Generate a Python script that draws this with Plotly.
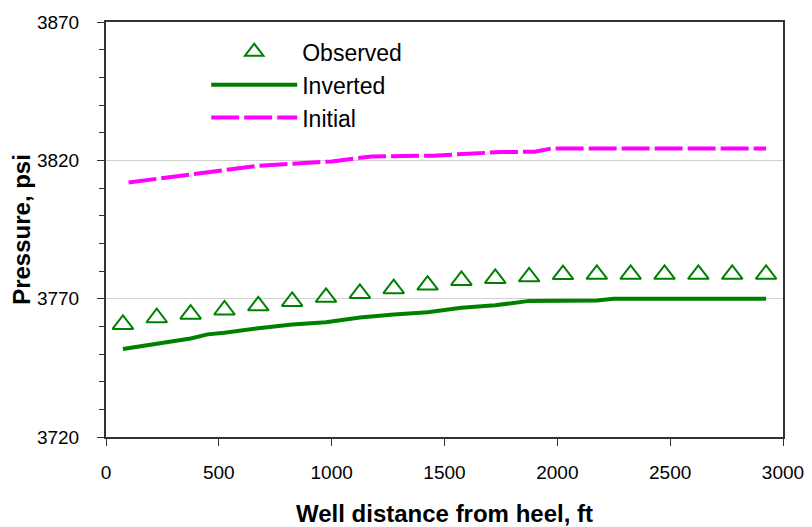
import plotly.graph_objects as go

# Observed data (triangles)
obs_x = [75, 225, 375, 525, 675, 825, 975, 1125, 1275, 1425,
         1575, 1725, 1875, 2025, 2175, 2325, 2475, 2625, 2775, 2925]
obs_y = [3760.7, 3763.1, 3764.4, 3765.9, 3767.4, 3769.0, 3770.5, 3771.9, 3773.6, 3774.9,
         3776.6, 3777.3, 3777.9, 3778.7, 3778.8, 3778.8, 3778.8, 3778.8, 3778.8, 3778.8]

# Inverted pressure profile
inv_x = [75, 225, 375, 450, 525, 675, 825, 975, 1125, 1275, 1425,
         1575, 1725, 1875, 2025, 2175, 2250, 2925]
inv_y = [3751.8, 3753.7, 3755.6, 3757.1, 3757.7, 3759.3, 3760.7, 3761.5, 3763.2, 3764.3, 3765.1,
         3766.7, 3767.6, 3769.2, 3769.3, 3769.3, 3770.0, 3770.0]

# Initial pressure profile
ini_x = [100, 670, 1000, 1175, 1450, 1750, 1900, 1975, 2925]
ini_y = [3812.0, 3818.0, 3819.6, 3821.4, 3821.7, 3823.0, 3823.1, 3824.3, 3824.3]

x_range = [0, 3000]
y_range = [3720, 3870]

FONT = "Liberation Sans, Arial, sans-serif"
GREEN = "#008000"
MAGENTA = "#FF00FF"

fig = go.Figure()
fig.add_trace(go.Scatter(
    x=obs_x, y=obs_y, mode="markers", name="Observed",
    marker=dict(symbol="triangle-up-open", size=18, color=GREEN, line=dict(width=2, color=GREEN)),
))
fig.add_trace(go.Scatter(
    x=inv_x, y=inv_y, mode="lines", name="Inverted",
    line=dict(color=GREEN, width=4),
))
fig.add_trace(go.Scatter(
    x=ini_x, y=ini_y, mode="lines", name="Initial",
    line=dict(color=MAGENTA, width=4, dash="28px,5px"),
))

fig.update_layout(
    width=812, height=527,
    margin=dict(l=106, r=29, t=22, b=90),
    paper_bgcolor="white", plot_bgcolor="white",
    font=dict(family=FONT, color="black", size=19),
    showlegend=True,
    legend=dict(
        x=0.148, y=0.98, xanchor="left", yanchor="top",
        bgcolor="rgba(0,0,0,0)", font=dict(size=23, family=FONT),
        itemwidth=86, tracegroupgap=0,
    ),
)
fig.update_xaxes(
    range=x_range, tickmode="linear", tick0=0, dtick=500, automargin=False,
    ticks="outside", ticklen=7, tickwidth=1, tickcolor="#333",
    showline=True, linecolor="#333", linewidth=2, mirror=True,
    showgrid=False, zeroline=False, ticklabelstandoff=10,
    title=dict(text="<b>Well distance from heel, ft</b>", font=dict(size=24, family=FONT), standoff=23),
)
fig.update_yaxes(
    range=y_range, tickmode="linear", tick0=3720, dtick=50, automargin=False,
    ticks="outside", ticklen=7, tickwidth=1, tickcolor="#333",
    minor=dict(dtick=10, tick0=3720, ticks="outside", ticklen=5, tickcolor="#333", showgrid=False),
    showline=True, linecolor="#333", linewidth=2, mirror=True,
    showgrid=True, gridcolor="#d0d0d0", gridwidth=1, zeroline=False, ticklabelstandoff=14,
    title=dict(text="<b>Pressure, psi</b>", font=dict(size=24, family=FONT), standoff=0),
)

fig.write_html("out.html")
